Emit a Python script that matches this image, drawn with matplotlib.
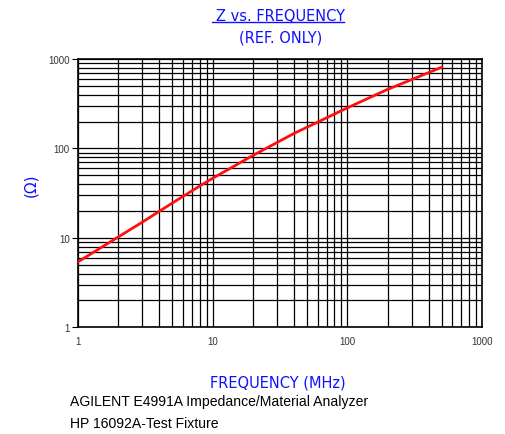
import matplotlib.pyplot as plt
from matplotlib.lines import Line2D
from matplotlib.ticker import LogLocator, FixedLocator, NullFormatter

# values
freq_mhz = [1, 2, 3, 5, 8, 10, 20, 40, 100, 200, 300, 500]
z_ohm = [5.4, 10.3, 15.0, 24.5, 38, 46.5, 84, 147, 285, 460, 590, 810]

x_ticks = [1, 10, 100, 1000]
x_ticklabels = ["1", "10", "100", "1000"]
y_ticks = [1, 10, 100, 1000]
y_ticklabels = ["1", "10", "100", "1000"]

blue = "#1010ff"
plt.rcParams["font.family"] = ["Liberation Sans", "DejaVu Sans"]

fig = plt.figure(figsize=(5.06, 4.35), dpi=100)
ax = fig.add_axes([0.154, 0.245, 0.799, 0.617])

ax.plot(freq_mhz, z_ohm, color="#ff1010", lw=2, zorder=3)
ax.set_xscale("log")
ax.set_yscale("log")
ax.set_xlim(1, 1000)
ax.set_ylim(1, 1000)

ax.xaxis.set_major_locator(FixedLocator(x_ticks))
ax.yaxis.set_major_locator(FixedLocator(y_ticks))
ax.set_xticklabels(x_ticklabels)
ax.set_yticklabels(y_ticklabels)
ax.xaxis.set_minor_locator(LogLocator(base=10, subs=range(2, 10)))
ax.yaxis.set_minor_locator(LogLocator(base=10, subs=range(2, 10)))
ax.xaxis.set_minor_formatter(NullFormatter())
ax.yaxis.set_minor_formatter(NullFormatter())

ax.grid(True, which="both", color="black", lw=0.9)
ax.tick_params(which="both", labelsize=7, labelcolor="#333333", length=0)
ax.tick_params(axis="y", which="major", length=4, direction="out", pad=2)
ax.tick_params(axis="x", which="major", pad=6)
for s in ax.spines.values():
    s.set_color("black")
    s.set_linewidth(1.2)

# titles and labels
fig.text(0.555, 0.962, "Z vs. FREQUENCY", color=blue, fontsize=10.5,
         ha="center", va="center", family="DejaVu Sans")
fig.add_artist(Line2D([0.418, 0.68], [0.946, 0.946], color=blue, lw=1))
fig.text(0.555, 0.913, "(REF. ONLY)", color=blue, fontsize=10.5,
         ha="center", va="center", family="DejaVu Sans")
fig.text(0.06, 0.575, "(Ω)", color=blue, fontsize=11, rotation=90,
         ha="center", va="center", family="DejaVu Sans")
fig.text(0.55, 0.12, "FREQUENCY (MHz)", color=blue, fontsize=10.5,
         ha="center", va="center", family="DejaVu Sans")
fig.text(0.138, 0.076, "AGILENT E4991A Impedance/Material Analyzer",
         fontsize=10.1, ha="left", va="center")
fig.text(0.138, 0.026, "HP 16092A-Test Fixture",
         fontsize=10.1, ha="left", va="center")

fig.savefig("out.png", dpi=100)
